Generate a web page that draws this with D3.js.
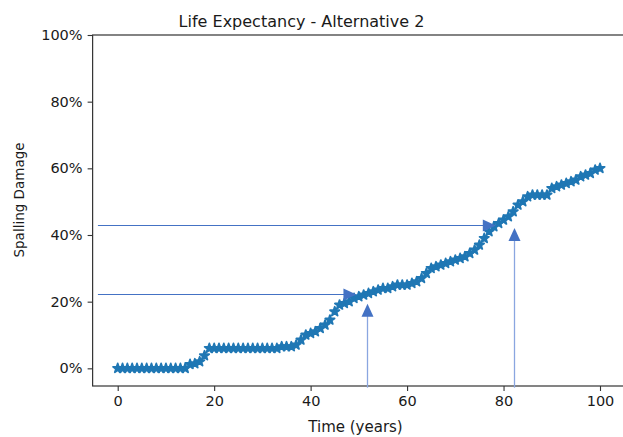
<!DOCTYPE html>
<html>
<head>
<meta charset="utf-8">
<script src="https://cdn.jsdelivr.net/npm/d3@7/dist/d3.min.js"></script>
<style>
  html, body { margin: 0; padding: 0; background: #fff; }
  svg { display: block; }
  text { font-family: "DejaVu Sans", sans-serif; fill: #1a1a1a; }
</style>
</head>
<body>
<svg id="chart" width="623" height="437"></svg>
<script>
// Spalling damage (%) for each year of service, years 0..100
const years = d3.range(0, 101);
const damage = [
  0, 0, 0, 0, 0, 0, 0, 0, 0, 0,
  0, 0, 0, 0, 0, 1.2, 1.4, 2, 3.8, 6,
  6, 6, 6, 6, 6, 6, 6, 6, 6, 6,
  6, 6, 6, 6, 6.5, 6.5, 6.5, 7, 8.5, 10,
  10.5, 11, 12, 13, 14.5, 17, 19, 19.5, 20, 21,
  21.5, 22, 22.5, 23, 23.5, 24, 24, 24.5, 25, 25,
  25, 25.5, 26, 27, 28.5, 30, 30.5, 31, 31.5, 32,
  32.5, 33, 33.5, 34.5, 35.5, 37, 39, 41, 42.5, 43.5,
  44.5, 45.5, 47, 49, 50, 51.5, 52, 52, 52, 52,
  54, 54.5, 55, 55.5, 56, 56.5, 57.5, 58, 58.5, 59.5,
  60
];

// Axis tick values
const xTicks = [0, 20, 40, 60, 80, 100];
const yTicks = [0, 20, 40, 60, 80, 100];

// Reading guides: horizontal from the axis to the curve, vertical up from the axis
const hArrows = [
  { y: 43, x0: -4.1, x1: 78.4 },
  { y: 22.3, x0: -4.1, x1: 49.5 }
];
const vArrows = [
  { x: 51.7, y0: -5.8, y1: 19.4 },
  { x: 82.2, y0: -5.8, y1: 42.1 }
];

const svg = d3.select("#chart");
const xMin = -5.2, xMax = 105;
const yMin = -5.3, yMax = 100;
const x = d3.scaleLinear().domain([0, 100]).range([117.7, 600]);
const y = d3.scaleLinear().domain([yMin, yMax]).range([386, 35]);
const crisp = v => Math.round(v) + 0.5;

// Title and axis labels
svg.append("text")
  .attr("x", 301.5).attr("y", 27)
  .attr("text-anchor", "middle")
  .style("font-size", "16px")
  .text("Life Expectancy - Alternative 2");

svg.append("text")
  .attr("x", 355.5).attr("y", 432)
  .attr("text-anchor", "middle")
  .style("font-size", "15px")
  .text("Time (years)");

svg.append("text")
  .attr("transform", "translate(24,200) rotate(-90)")
  .attr("text-anchor", "middle")
  .style("font-size", "13.5px")
  .text("Spalling Damage");

// Axes
const xAxis = d3.axisBottom(x).tickValues(xTicks).tickSize(5).tickPadding(5).tickSizeOuter(0);
const yAxis = d3.axisLeft(y).tickValues(yTicks).tickSize(5).tickPadding(5).tickSizeOuter(0)
  .tickFormat(d => d + "%");

const gx = svg.append("g").attr("transform", `translate(0,${y(yMin)})`).call(xAxis);
const gy = svg.append("g").attr("transform", `translate(${x(xMin)},0)`).call(yAxis);
[gx, gy].forEach(g => {
  g.select(".domain").remove();
  g.selectAll(".tick line").attr("stroke", "#333").attr("stroke-width", 1.1);
  g.selectAll(".tick text").style("font-size", "14.5px").attr("fill", "#1a1a1a")
    .style("font-family", "'DejaVu Sans', sans-serif");
});

// Frame
svg.append("rect")
  .attr("x", x(xMin)).attr("y", y(yMax))
  .attr("width", x(xMax) - x(xMin)).attr("height", y(yMin) - y(yMax))
  .attr("fill", "none").attr("stroke", "#333").attr("stroke-width", 1.2);

// Star markers
const star = d3.symbol().type(d3.symbolStar).size(27);
svg.append("g").selectAll("path")
  .data(years)
  .join("path")
  .attr("d", star)
  .attr("transform", (d, i) => `translate(${x(d)},${y(damage[i])})`)
  .attr("fill", "#1f77b4")
  .attr("stroke", "#1f77b4")
  .attr("stroke-width", 1.8)
  .attr("stroke-linejoin", "round");

// Arrow guides
const arrowColor = "#4472c4";
const headLen = 13, headHalf = 6;
const guides = svg.append("g");
hArrows.forEach(a => {
  const xa = x(a.x0), xb = x(a.x1), yy = crisp(y(a.y));
  guides.append("line").attr("x1", xa).attr("x2", xb - headLen + 1).attr("y1", yy).attr("y2", yy)
    .attr("stroke", arrowColor).attr("stroke-width", 1);
  guides.append("path")
    .attr("d", `M${xb},${yy}L${xb - headLen},${yy - headHalf}L${xb - headLen},${yy + headHalf}Z`)
    .attr("fill", arrowColor);
});
vArrows.forEach(a => {
  const xx = crisp(x(a.x)), ya = y(a.y0), yb = y(a.y1);
  guides.append("line").attr("x1", xx).attr("x2", xx).attr("y1", ya).attr("y2", yb + headLen - 1)
    .attr("stroke", "#8aa6e0").attr("stroke-width", 1.3);
  guides.append("path")
    .attr("d", `M${xx},${yb}L${xx - headHalf},${yb + headLen}L${xx + headHalf},${yb + headLen}Z`)
    .attr("fill", arrowColor);
});
</script>
</body>
</html>
